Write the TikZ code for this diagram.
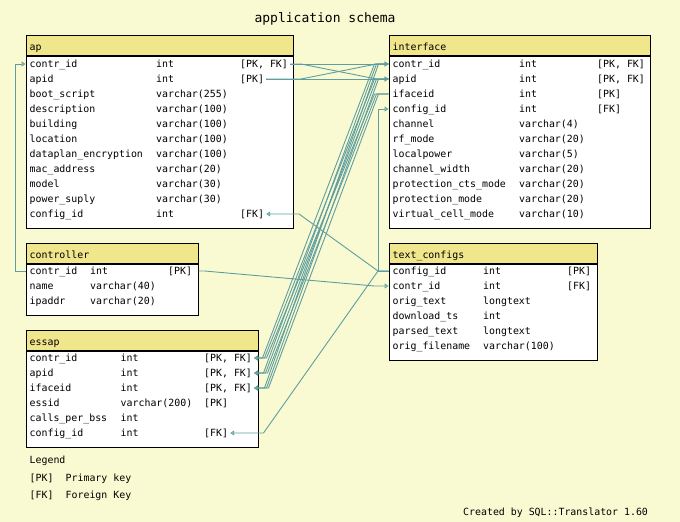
\documentclass[tikz,border=0pt]{standalone}
\usepackage{fontspec}
\usepackage{tikz}
\usetikzlibrary{arrows.meta}
\usetikzlibrary{calc}
\newfontfamily\schemafont{DejaVu Sans Mono}
\definecolor{paper}{RGB}{250,250,210}
\definecolor{headfill}{RGB}{240,230,140}
\definecolor{linkblue}{RGB}{95,158,160}

\begin{document}
\begin{tikzpicture}[x=1pt,y=-1pt]
	\tikzset{tblhead/.style = {draw, fill=headfill, line width=1pt, anchor=north west,
			minimum height=20pt, inner sep=0pt}}
	\tikzset{tblbody/.style = {draw, fill=white, line width=1pt, anchor=north west,
			inner sep=0pt}}
	\tikzset{cell/.style = {anchor=west, inner sep=0pt, text height=8pt, text depth=2pt,
			font=\schemafont\fontsize{9.9}{11}\selectfont}}
	\tikzset{fk/.style = {-{Triangle[open, length=4pt, width=5pt]}, draw=linkblue,
			line width=0.9pt}}
	
	\fill[paper] (0,0) rectangle (680,522);
	\useasboundingbox (0,0) rectangle (680,522);
	
	\node[cell, anchor=base, font=\schemafont\fontsize{13}{15}\selectfont] (title) at (325,23) {application schema};
	
	% tables
	\node[tblhead, minimum width=267.5pt] (ap-head) at (25.5,35) {};
	\node[cell] (ap-name) at (29.5,47.5) {ap};
	\node[tblbody, minimum width=267.5pt, minimum height=172pt] (ap) at (ap-head.south west) {};
	\foreach \fname/\ftype/\fkey [count=\i from 0] in {contr\_id/int/{[PK, FK]}, apid/int/{[PK]},
		boot\_script/varchar(255)/{}, description/varchar(100)/{}, building/varchar(100)/{},
		location/varchar(100)/{}, dataplan\_encryption/varchar(100)/{}, mac\_address/varchar(20)/{},
		model/varchar(30)/{}, power\_suply/varchar(30)/{}, config\_id/int/{[FK]}}{
		\node[cell] (ap-n\i) at (29.5,64+15*\i) {\fname};
		\node[cell] (ap-t\i) at (156,64+15*\i) {\ftype};
		\node[cell] (ap-k\i) at (240,64+15*\i) {\fkey};
	}
	
	\node[tblhead, minimum width=261.5pt] (if-head) at (388.5,35) {};
	\node[cell] (if-name) at (392.5,47.5) {interface};
	\node[tblbody, minimum width=261.5pt, minimum height=172pt] (iface) at (if-head.south west) {};
	\foreach \fname/\ftype/\fkey [count=\i from 0] in {contr\_id/int/{[PK, FK]}, apid/int/{[PK, FK]},
		ifaceid/int/{[PK]}, config\_id/int/{[FK]}, channel/varchar(4)/{}, rf\_mode/varchar(20)/{},
		localpower/varchar(5)/{}, channel\_width/varchar(20)/{}, protection\_cts\_mode/varchar(20)/{},
		protection\_mode/varchar(20)/{}, virtual\_cell\_mode/varchar(10)/{}}{
		\node[cell] (if-n\i) at (392.5,64+15*\i) {\fname};
		\node[cell] (if-t\i) at (519,64+15*\i) {\ftype};
		\node[cell] (if-k\i) at (597,64+15*\i) {\fkey};
	}
	
	\node[tblhead, minimum width=172pt] (ct-head) at (25.5,242.5) {};
	\node[cell] (ct-name) at (29.5,255) {controller};
	\node[tblbody, minimum width=172pt, minimum height=51.5pt] (ctrl) at (ct-head.south west) {};
	\foreach \fname/\ftype/\fkey [count=\i from 0] in {contr\_id/int/{[PK]},
		name/varchar(40)/{}, ipaddr/varchar(20)/{}}{
		\node[cell] (ct-n\i) at (29.5,271+15*\i) {\fname};
		\node[cell] (ct-t\i) at (90,271+15*\i) {\ftype};
		\node[cell] (ct-k\i) at (168,271+15*\i) {\fkey};
	}
	
	\node[tblhead, minimum width=232pt] (es-head) at (25.5,329.5) {};
	\node[cell] (es-name) at (29.5,342) {essap};
	\node[tblbody, minimum width=232pt, minimum height=96.5pt] (essap) at (es-head.south west) {};
	\foreach \fname/\ftype/\fkey [count=\i from 0] in {contr\_id/int/{[PK, FK]}, apid/int/{[PK, FK]},
		ifaceid/int/{[PK, FK]}, essid/varchar(200)/{[PK]}, calls\_per\_bss/int/{},
		config\_id/int/{[FK]}}{
		\node[cell] (es-n\i) at (29.5,358+15*\i) {\fname};
		\node[cell] (es-t\i) at (120.5,358+15*\i) {\ftype};
		\node[cell] (es-k\i) at (204,358+15*\i) {\fkey};
	}
	
	\node[tblhead, minimum width=208pt] (tc-head) at (388.5,242.5) {};
	\node[cell] (tc-name) at (392.5,255) {text\_configs};
	\node[tblbody, minimum width=208pt, minimum height=96.5pt] (txtcfg) at (tc-head.south west) {};
	\foreach \fname/\ftype/\fkey [count=\i from 0] in {config\_id/int/{[PK]}, contr\_id/int/{[FK]},
		orig\_text/longtext/{}, download\_ts/int/{}, parsed\_text/longtext/{},
		orig\_filename/varchar(100)/{}}{
		\node[cell] (tc-n\i) at (392.5,271+15*\i) {\fname};
		\node[cell] (tc-t\i) at (483,271+15*\i) {\ftype};
		\node[cell] (tc-k\i) at (567,271+15*\i) {\fkey};
	}
	
	% legend
	\node[cell] (legend) at (29.5,460) {Legend};
	\node[cell] (lg-pk) at (29.5,478) {[PK]};
	\node[cell] (lg-pk-text) at (65.5,478) {Primary key};
	\node[cell] (lg-fk) at (29.5,495) {[FK]};
	\node[cell] (lg-fk-text) at (65.5,495) {Foreign Key};
	\node[cell] (credit) at (463,512) {Created by SQL::Translator 1.60};
	
	%edges
	\coordinate (ap-hub0) at ($(ap.east |- ap-n0)+(7,0)$);
	\coordinate (ap-hub1) at ($(ap.east |- ap-n1)+(7,0)$);
	\coordinate (tc-hub) at ($(txtcfg.west |- tc-n0)+(-10.5,0)$);
	
	\draw[fk] (ctrl.west |- ct-n0) -- ++(-10,0) |- (ap.west |- ap-n0);
	\draw[fk] (ctrl.east |- ct-n0) -- ++(6,0) -- ($(txtcfg.west |- tc-n1)+(-14,0)$) -- (txtcfg.west |- tc-n1);
	
	\draw[fk] ([xshift=2pt]ap-k0.east) -- (iface.west |- if-n0);
	\draw[fk] ([xshift=2pt]ap-k0.east) -- (ap-hub0) -- ($(iface.west |- if-n1)+(-12,0)$) -- (iface.west |- if-n1);
	\draw[fk] ([xshift=2pt]ap-k1.east) -- (ap-hub1) -- ($(iface.west |- if-n0)+(-12,0)$) -- (iface.west |- if-n0);
	\draw[fk] ([xshift=2pt]ap-k1.east) -- (iface.west |- if-n1);
	
	\foreach \a in {0,1,2}{
		\foreach \b in {0,1,2}{
			\draw[fk] (iface.west |- if-n\a) -- ++(-14+2*\b,0) -- ($(essap.east |- es-n\b)+(4+2*\a+\b,0)$) -- ([xshift=2pt]es-k\b.east);
		}
	}
	
	\draw[fk] (txtcfg.west |- tc-n0) -- (tc-hub) |- (iface.west |- if-n3);
	\draw[fk] (txtcfg.west |- tc-n0) -- (tc-hub) -- ($(ap.east |- ap-n10)+(5,0)$) -- ([xshift=2pt]ap-k10.east);
	\draw[fk] (txtcfg.west |- tc-n0) -- (tc-hub) -- ($(essap.east |- es-n5)+(5,0)$) -- ([xshift=2pt]es-k5.east);
	
\end{tikzpicture}
\end{document}
